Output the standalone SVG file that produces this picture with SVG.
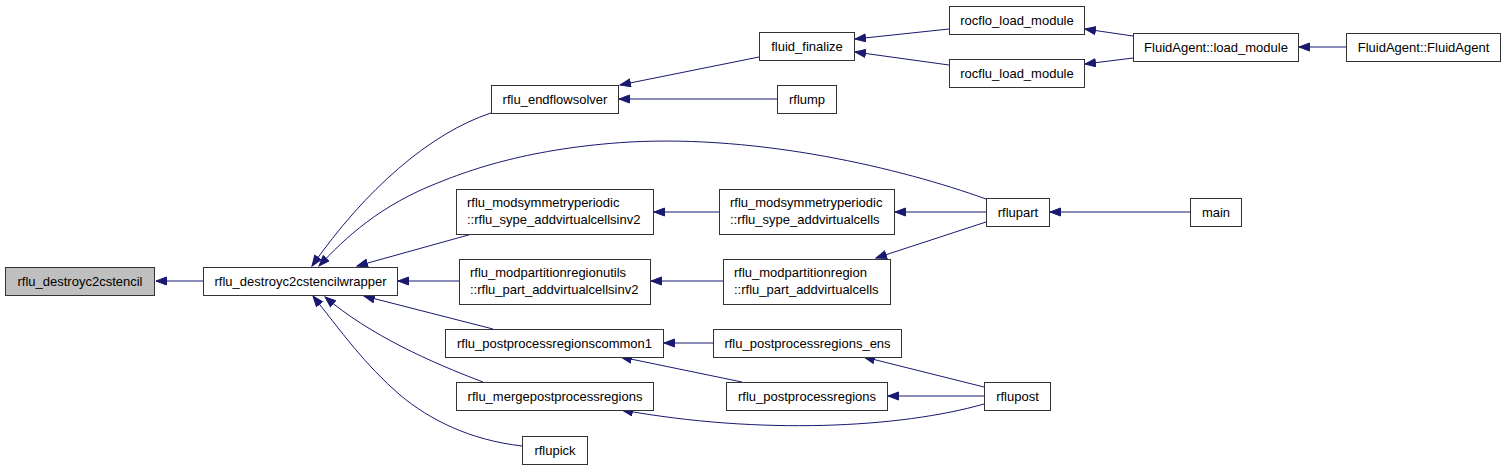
<svg xmlns="http://www.w3.org/2000/svg" width="1507" height="469" viewBox="0 0 1507 469">
<style>
.n rect{fill:#ffffff;stroke:#333333;stroke-width:1}
.n text{font-family:"Liberation Sans",Arial,sans-serif;font-size:13px;fill:#000000}
.c{text-anchor:middle}
.e path{fill:none;stroke:#191970;stroke-width:1;marker-end:url(#ah)}
</style>
<defs>
<marker id="ah" markerUnits="userSpaceOnUse" markerWidth="13" markerHeight="10" refX="11" refY="4.5" orient="auto">
<path d="M0.5,0.5 L11,4.5 L0.5,8.5 z" fill="#191970" stroke="#191970" stroke-width="1"/>
</marker>
</defs>
<rect x="0" y="0" width="1507" height="469" fill="#ffffff"/>
<g class="e" id="connectors">
<path d="M203,281 L156,281"/>
<path d="M491,113 C430,133 365,190 312,266"/>
<path d="M986,199 C900,168 760,135 630,142 C530,148 470,170 440,182 C380,205 345,238 319,266"/>
<path d="M472,234 L357,266"/>
<path d="M459,281 L398,281"/>
<path d="M493,329 L364,296"/>
<path d="M483,382 C430,362 370,335 325,297"/>
<path d="M522,446 C470,440 430,420 400,395 C365,365 340,330 313,296"/>
<path d="M759,57 L620,85"/>
<path d="M777,99 L619,99"/>
<path d="M949,29 L855,39"/>
<path d="M949,65 L855,52"/>
<path d="M1133,36 L1085,29"/>
<path d="M1133,58 L1085,64"/>
<path d="M1346,47 L1299,47"/>
<path d="M719,212 L654,212"/>
<path d="M986,212 L895,212"/>
<path d="M986,222 L876,258"/>
<path d="M723,281 L651,281"/>
<path d="M1190,212 L1050,212"/>
<path d="M713,343 L664,343"/>
<path d="M742,382 L621,357"/>
<path d="M984,387 L864,357"/>
<path d="M984,396 L888,396"/>
<path d="M984,404 C900,428 760,435 622,410"/>
</g>
<g class="n" id="rflu_destroyc2cstencil"><rect x="5.5" y="267.5" width="149" height="28" style="fill:#bfbfbf"/><text class="c" x="80" y="286">rflu_destroyc2cstencil</text></g>
<g class="n" id="rflu_destroyc2cstencilwrapper"><rect x="203.5" y="267.5" width="194" height="28"/><text class="c" x="300.5" y="286">rflu_destroyc2cstencilwrapper</text></g>
<g class="n" id="rflu_endflowsolver"><rect x="491.5" y="85.5" width="127" height="28"/><text class="c" x="555" y="104">rflu_endflowsolver</text></g>
<g class="n" id="rflump"><rect x="777.5" y="85.5" width="59" height="28"/><text class="c" x="807" y="104">rflump</text></g>
<g class="n" id="fluid_finalize"><rect x="759.5" y="32.5" width="95" height="28"/><text class="c" x="807" y="51">fluid_finalize</text></g>
<g class="n" id="rocflo_load_module"><rect x="949.5" y="6.5" width="135" height="28"/><text class="c" x="1017" y="25">rocflo_load_module</text></g>
<g class="n" id="rocflu_load_module"><rect x="949.5" y="59.5" width="135" height="28"/><text class="c" x="1017" y="78">rocflu_load_module</text></g>
<g class="n" id="FluidAgent_load_module"><rect x="1133.5" y="33.5" width="165" height="28"/><text class="c" x="1216" y="52">FluidAgent::load_module</text></g>
<g class="n" id="FluidAgent_FluidAgent"><rect x="1346.5" y="33.5" width="154" height="28"/><text class="c" x="1423.5" y="52">FluidAgent::FluidAgent</text></g>
<g class="n" id="rflu_sype_addvirtualcellsinv2"><rect x="456.5" y="189.5" width="197" height="45"/><text x="467" y="207">rflu_modsymmetryperiodic</text><text x="467" y="224">::rflu_sype_addvirtualcellsinv2</text></g>
<g class="n" id="rflu_sype_addvirtualcells"><rect x="719.5" y="189.5" width="175" height="45"/><text x="730" y="207">rflu_modsymmetryperiodic</text><text x="730" y="224">::rflu_sype_addvirtualcells</text></g>
<g class="n" id="rflu_part_addvirtualcellsinv2"><rect x="459.5" y="259.5" width="191" height="45"/><text x="470" y="277">rflu_modpartitionregionutils</text><text x="470" y="294">::rflu_part_addvirtualcellsinv2</text></g>
<g class="n" id="rflu_part_addvirtualcells"><rect x="723.5" y="259.5" width="167" height="45"/><text x="734" y="277">rflu_modpartitionregion</text><text x="734" y="294">::rflu_part_addvirtualcells</text></g>
<g class="n" id="rflupart"><rect x="986.5" y="198.5" width="63" height="28"/><text class="c" x="1018" y="217">rflupart</text></g>
<g class="n" id="main"><rect x="1190.5" y="198.5" width="51" height="28"/><text class="c" x="1216" y="217">main</text></g>
<g class="n" id="rflu_postprocessregionscommon1"><rect x="445.5" y="329.5" width="218" height="28"/><text class="c" x="554.5" y="348">rflu_postprocessregionscommon1</text></g>
<g class="n" id="rflu_postprocessregions_ens"><rect x="713.5" y="329.5" width="188" height="28"/><text class="c" x="807.5" y="348">rflu_postprocessregions_ens</text></g>
<g class="n" id="rflu_mergepostprocessregions"><rect x="456.5" y="382.5" width="197" height="28"/><text class="c" x="555" y="401">rflu_mergepostprocessregions</text></g>
<g class="n" id="rflu_postprocessregions"><rect x="726.5" y="382.5" width="161" height="28"/><text class="c" x="807" y="401">rflu_postprocessregions</text></g>
<g class="n" id="rflupick"><rect x="522.5" y="436.5" width="65" height="28"/><text class="c" x="555" y="455">rflupick</text></g>
<g class="n" id="rflupost"><rect x="984.5" y="382.5" width="66" height="28"/><text class="c" x="1017.5" y="401">rflupost</text></g>
</svg>
